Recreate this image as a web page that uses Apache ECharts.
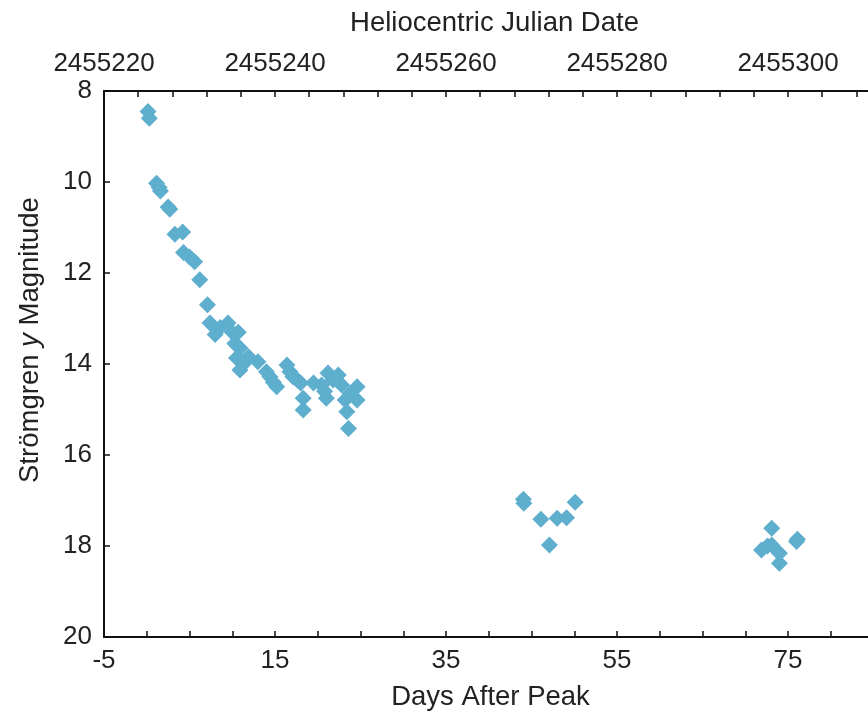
<!DOCTYPE html>
<html>
<head>
<meta charset="utf-8">
<script src="https://cdn.jsdelivr.net/npm/echarts@6/dist/echarts.min.js"></script>
<style>
html,body{margin:0;padding:0;background:#fff;}
#chart{width:868px;height:719px;}
</style>
</head>
<body>
<div id="chart"></div>
<script>
// Days after peak
var days = [
  0.15, 0.3, 1.15, 1.45, 1.6, 2.5, 2.7, 3.3, 4.2, 4.3, 5.0, 5.6, 6.2, 7.1,
  7.4, 8.0, 8.6, 9.5, 10.0, 10.7, 10.3, 10.9, 10.5, 11.9, 10.9, 11.3, 13.0,
  14.0, 14.4, 15.2, 14.8, 16.4, 16.75, 17.1, 17.6, 18.0, 18.3, 18.3,
  19.5, 20.45, 21.2, 21.8, 22.4, 21.0, 20.8, 22.8, 23.2, 23.4, 23.6, 24.6, 24.6, 23.8,
  44.05, 44.1, 46.1, 47.1, 48.0, 49.1, 50.1,
  73.1, 71.9, 72.6, 73.1, 74.0, 74.0, 76.0, 76.1
];
// Strömgren y magnitude
var mags = [
  8.45, 8.6, 10.03, 10.12, 10.2, 10.55, 10.6, 11.15, 11.1, 11.55, 11.65, 11.75, 12.15, 12.7,
  13.1, 13.35, 13.2, 13.1, 13.3, 13.3, 13.55, 13.65, 13.87, 13.84, 14.13, 14.0, 13.95,
  14.17, 14.28, 14.5, 14.4, 14.02, 14.17, 14.28, 14.35, 14.42, 14.75, 15.01,
  14.42, 14.46, 14.2, 14.35, 14.24, 14.75, 14.6, 14.46, 14.79, 15.05, 15.42, 14.5, 14.79, 14.65,
  16.97, 17.06, 17.41, 17.98, 17.39, 17.38, 17.04,
  17.61, 18.09, 18.0, 17.98, 18.16, 18.38, 17.9, 17.85
];
var hjdOffset = 2455225;          // HJD of peak
var xMinHJD = 2455220, xMaxHJD = 2455320;
var yMin = 8, yMax = 20, yStep = 2;

var points = days.map(function (d, i) { return [d + hjdOffset, mags[i]]; });

var txt = '#222';
var font = 'Liberation Sans, Arial, sans-serif';
var chart = echarts.init(document.getElementById('chart'));
chart.setOption({
  animation: false,
  backgroundColor: '#fff',
  grid: { left: 104, right: -91, top: 91, bottom: 82, containLabel: false, outerBoundsMode: 'none' },
  xAxis: [
    {
      type: 'value', position: 'bottom', min: xMinHJD, max: xMaxHJD, interval: 20,
      name: 'Days After Peak', nameLocation: 'middle', nameGap: 46,
      nameTextStyle: { color: txt, fontSize: 27.5, fontFamily: font, padding: [0, 82, 0, 0] },
      axisLine: { lineStyle: { color: '#111', width: 2 } },
      axisTick: { inside: true, length: 6, lineStyle: { color: '#111', width: 1.5 } },
      minorTick: { show: true, splitNumber: 4, length: 6, lineStyle: { color: '#111', width: 1.5 } },
      splitLine: { show: false },
      axisLabel: { color: txt, fontSize: 26, fontFamily: font, margin: 11, showMaxLabel: false,
        formatter: function (v) { return String(Math.round(v - hjdOffset)); } }
    },
    {
      type: 'value', position: 'top', min: xMinHJD, max: xMaxHJD, interval: 20,
      name: 'Heliocentric Julian Date', nameLocation: 'middle', nameGap: 54,
      nameTextStyle: { color: txt, fontSize: 27.5, fontFamily: font, padding: [0, 74, 0, 0] },
      axisLine: { lineStyle: { color: '#111', width: 2 } },
      axisTick: { inside: true, length: 6, lineStyle: { color: '#111', width: 1.5 } },
      minorTick: { show: true, splitNumber: 5, length: 6, lineStyle: { color: '#111', width: 1.5 } },
      splitLine: { show: false },
      axisLabel: { color: txt, fontSize: 26, fontFamily: font, margin: 14, showMaxLabel: false,
        formatter: function (v) { return String(v); } }
    }
  ],
  yAxis: [
    {
      type: 'value', inverse: true, min: yMin, max: yMax, interval: yStep,
      name: 'Strömgren {i|y} Magnitude', nameLocation: 'middle', nameGap: 60,
      nameTextStyle: { color: txt, fontSize: 27.5, fontFamily: font, padding: [0, 0, 0, 48],
        rich: { i: { fontStyle: 'italic', fontSize: 27.5, fontFamily: font, color: txt } } },
      axisLine: { show: true, lineStyle: { color: '#111', width: 2 } },
      axisTick: { show: true, inside: true, length: 6, lineStyle: { color: '#111', width: 1.5 } },
      splitLine: { show: false },
      axisLabel: { color: txt, fontSize: 26, fontFamily: font, margin: 12 }
    }
  ],
  series: [{
    type: 'scatter',
    xAxisIndex: 0, yAxisIndex: 0,
    symbol: 'diamond', symbolSize: 17,
    itemStyle: { color: '#5eaecd', opacity: 1 },
    data: points
  }]
});
</script>
</body>
</html>
